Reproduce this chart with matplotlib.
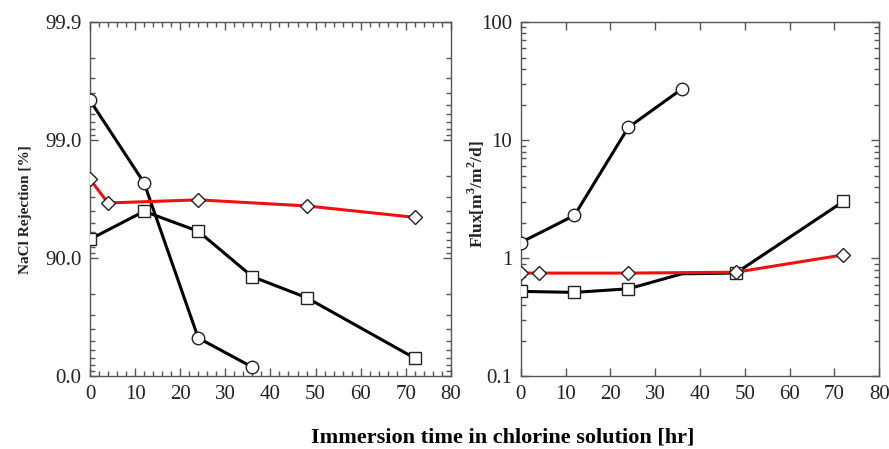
import matplotlib.pyplot as plt
from matplotlib.ticker import FixedLocator, NullFormatter, LogLocator, MultipleLocator, NullLocator

plt.rcParams['font.family'] = ['Liberation Serif', 'DejaVu Serif']
plt.rcParams['mathtext.fontset'] = 'custom'
plt.rcParams['mathtext.rm'] = 'Liberation Serif'
plt.rcParams['mathtext.bf'] = 'Liberation Serif:bold'

# NaCl rejection [%]
time_circle = [0, 12, 24, 36]
rej_circle = [99.54, 97.7, 52.8, 16.6]
time_square = [0, 12, 24, 36, 48, 72]
rej_square = [93.1, 96.0, 94.1, 85.7, 78.5, 30.0]
time_diamond = [0, 4, 24, 48, 72]
rej_diamond = [97.86, 96.6, 96.8, 96.4, 95.5]

# Flux [m3/m2/d]
flux_circle = [1.36, 2.31, 12.8, 27.2]
flux_square = [0.525, 0.515, 0.552, 0.74, 0.75, 3.03]
flux_diamond = [0.75, 0.75, 0.75, 0.763, 1.07]

rej_ticks = [0.0, 90.0, 99.0, 99.9]
flux_ticks = [0.1, 1, 10, 100]

FRAME = '#555555'
TXT = '#222222'
RED = '#f01010'

fig = plt.figure(figsize=(8.89, 4.49), dpi=100)
ax1 = fig.add_axes([0.1012, 0.1615, 0.406, 0.7895])
ax2 = fig.add_axes([0.5857, 0.1615, 0.4034, 0.7895])

mk = dict(markersize=9, markerfacecolor='white', markeredgecolor='#222222', markeredgewidth=1.0)
mk_d = dict(mk, markersize=7.2)


def style(ax):
    for sp in ax.spines.values():
        sp.set_color(FRAME)
        sp.set_linewidth(1.0)
    ax.tick_params(which='both', direction='in', top=True, right=True, colors=FRAME,
                   labelcolor=TXT, labelsize=15, width=1.0)
    ax.tick_params(which='major', length=6, pad=6)
    ax.tick_params(which='minor', length=3.5)
    ax.set_xlim(0, 80)
    ax.xaxis.set_major_locator(MultipleLocator(10))


# Left panel: rejection on inverted log scale of (100 - R)
def loss(r):
    return [100 - v for v in r]


ax1.set_yscale('log')
ax1.plot(time_circle, loss(rej_circle), '-', color='black', lw=2.2, zorder=2)
ax1.plot(time_square, loss(rej_square), '-', color='black', lw=2.2, zorder=2)
ax1.plot(time_diamond, loss(rej_diamond), '-', color=RED, lw=2.2, zorder=3)
ax1.plot(time_circle, loss(rej_circle), 'o', zorder=4, **mk)
ax1.plot(time_square, loss(rej_square), 's', zorder=4, **mk)
ax1.plot(time_diamond, loss(rej_diamond), 'D', zorder=4, **mk_d)
ax1.set_ylim(100, 0.1)
style(ax1)
ax1.xaxis.set_minor_locator(MultipleLocator(2))
ax1.yaxis.set_major_locator(FixedLocator(loss(rej_ticks)))
ax1.yaxis.set_major_formatter(plt.FixedFormatter([f"{t:.1f}" for t in rej_ticks]))
ax1.yaxis.set_minor_locator(LogLocator(base=10, subs=range(2, 10)))
ax1.yaxis.set_minor_formatter(NullFormatter())
ax1.set_ylabel("NaCl Rejection [%]", fontsize=11, fontweight='bold', color=TXT)
ax1.yaxis.set_label_coords(-0.16, 0.47)

# Right panel: flux
ax2.set_yscale('log')
ax2.plot(time_circle, flux_circle, '-', color='black', lw=2.2, zorder=2)
ax2.plot(time_square, flux_square, '-', color='black', lw=2.2, zorder=2)
ax2.plot(time_diamond, flux_diamond, '-', color=RED, lw=2.2, zorder=3)
ax2.plot(time_circle, flux_circle, 'o', zorder=4, **mk)
ax2.plot(time_square, flux_square, 's', markevery=[0, 1, 2, 4, 5], zorder=4, **mk)
ax2.plot(time_diamond, flux_diamond, 'D', zorder=4, **mk_d)
ax2.set_ylim(0.1, 100)
style(ax2)
ax2.xaxis.set_minor_locator(NullLocator())
ax2.yaxis.set_major_locator(FixedLocator(flux_ticks))
ax2.yaxis.set_major_formatter(plt.FixedFormatter([f"{t:g}" for t in flux_ticks]))
ax2.yaxis.set_minor_locator(LogLocator(base=10, subs=range(2, 10)))
ax2.yaxis.set_minor_formatter(NullFormatter())
ax2.set_ylabel(r"Flux[m$^\mathbf{3}$/m$^\mathbf{2}$/d]", fontsize=12.5, fontweight='bold', color=TXT)
ax2.yaxis.set_label_coords(-0.095, 0.515)

fig.text(0.566, 0.025, "Immersion time in chlorine solution [hr]", ha='center', va='center',
         fontsize=16, fontweight='bold', color='black')

fig.savefig('out.png', dpi=100)
